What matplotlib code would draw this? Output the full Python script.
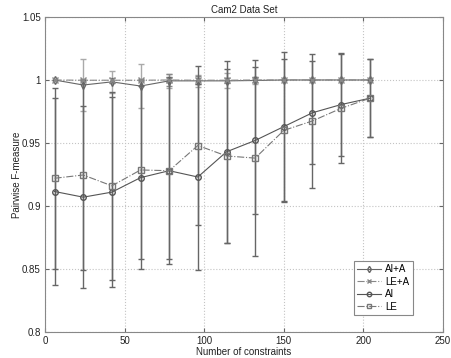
import matplotlib
matplotlib.use("Agg")
import matplotlib.pyplot as plt

plt.rcParams['font.family'] = ['Liberation Sans', 'DejaVu Sans']

x = [6, 24, 42, 60, 78, 96, 114, 132, 150, 168, 186, 204]

aia = [1.0, 0.996, 0.9985, 0.9952, 0.9993, 0.9993, 0.9993, 0.9996, 1.0, 1.0, 1.0, 1.0]
aia_err = [0, 0.021, 0.0087, 0.0172, 0.0058, 0.0048, 0.006, 0.0025, 0, 0, 0, 0]
lea = [1.0, 0.9998, 0.9998, 0.9998, 1.0, 0.9998, 0.9998, 1.0, 1.0, 1.0, 1.0, 1.0]
lea_err = [0, 0.001, 0.002, 0.001, 0.0045, 0.003, 0.002, 0.002, 0, 0, 0, 0]
ai = [0.9115, 0.907, 0.911, 0.9225, 0.928, 0.923, 0.943, 0.952, 0.963, 0.974, 0.9805, 0.9855]
ai_err = [0.0745, 0.072, 0.0755, 0.0725, 0.074, 0.074, 0.072, 0.058, 0.059, 0.041, 0.041, 0.031]
le = [0.922, 0.9246, 0.916, 0.9286, 0.928, 0.948, 0.9397, 0.938, 0.960, 0.9675, 0.9775, 0.9855]
le_err = [0.072, 0.075, 0.0745, 0.071, 0.070, 0.063, 0.069, 0.078, 0.057, 0.053, 0.043, 0.031]

labels = ['AI+A', 'LE+A', 'AI', 'LE']
title = 'Cam2 Data Set'
xlabel = 'Number of constraints'
ylabel = 'Pairwise F-measure'

fig = plt.figure(figsize=(4.51, 3.58), dpi=100)
ax = fig.add_axes([0.0998, 0.0726, 0.8825, 0.88])

styles = [
    (aia, aia_err, '-', 'd', '#666666', '#aaaaaa'),
    (lea, lea_err, '-.', 'x', '#888888', '#888888'),
    (ai, ai_err, '-', 'o', '#555555', '#666666'),
    (le, le_err, '-.', 's', '#777777', '#666666'),
]
handles = []
for (y, e, ls, mk, col, ecol), lab in zip(styles, labels):
    ax.errorbar(x, y, yerr=e, fmt='none', ecolor=ecol, elinewidth=1.0,
                capsize=2.5, capthick=1.0, zorder=2)
    h, = ax.plot(x, y, linestyle=ls, marker=mk, color=col, markersize=4,
                 markerfacecolor='none', markeredgecolor=col, linewidth=0.8,
                 label=lab, zorder=3)
    handles.append(h)

ax.set_xlim(0, 250)
ax.set_ylim(0.8, 1.05)
ax.set_xticks([0, 50, 100, 150, 200, 250])
ax.set_yticks([0.8, 0.85, 0.9, 0.95, 1.0, 1.05])
ax.set_yticklabels(['0.8', '0.85', '0.9', '0.95', '1', '1.05'])
ax.grid(True, linestyle=':', color='#c4c4c4', linewidth=0.8)
ax.tick_params(direction='in', top=True, right=True, labelsize=7,
               length=3, color='#666666', labelcolor='#222222', pad=3)
for s in ax.spines.values():
    s.set_color('#888888')
    s.set_linewidth(0.8)

ax.set_title(title, fontsize=7, pad=3, color='#222222')
ax.set_xlabel(xlabel, fontsize=7, labelpad=0.5, color='#222222')
ax.set_ylabel(ylabel, fontsize=7, labelpad=0, color='#222222')

leg = ax.legend(handles=handles, loc='lower right', bbox_to_anchor=(0.924, 0.054),
                borderaxespad=0, fontsize=7, fancybox=False, framealpha=1,
                edgecolor='#888888', handlelength=2.5, handletextpad=0.4,
                borderpad=0.35, labelspacing=0.25, markerscale=0.8)
leg.get_frame().set_linewidth(0.8)

fig.savefig('out.png', dpi=100)
